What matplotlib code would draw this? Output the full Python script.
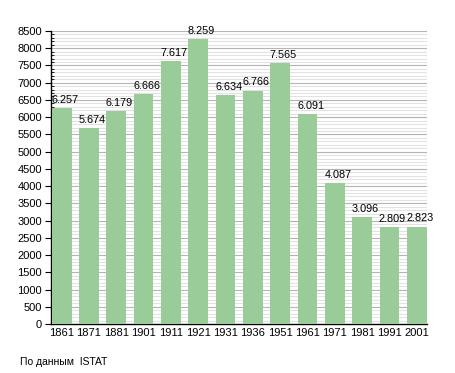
import numpy as np
import matplotlib
matplotlib.use("Agg")
import matplotlib.pyplot as plt
from matplotlib.ticker import MultipleLocator

years = ['1861', '1871', '1881', '1901', '1911', '1921', '1931',
         '1936', '1951', '1961', '1971', '1981', '1991', '2001']
population = [6257, 5674, 6179, 6666, 7617, 8259, 6634,
              6766, 7565, 6091, 4087, 3096, 2809, 2823]
labels = ['6.257', '5.674', '6.179', '6.666', '7.617', '8.259', '6.634',
          '6.766', '7.565', '6.091', '4.087', '3.096', '2.809', '2.823']

plt.rcParams['font.family'] = ['Liberation Sans', 'DejaVu Sans']

fig = plt.figure(figsize=(4.55, 3.73), dpi=100)
ax = fig.add_axes([50.5/455, 49/373, 376/455, 293/373])

w = 0.72
x = np.arange(len(years))
bars = ax.bar(x, population, width=w, color='#99cc99', zorder=3)
# labels sit a little to the right of the bar centres
for b, lab in zip(bars, labels):
    ax.annotate(lab, (b.get_x() + b.get_width()/2, b.get_height()),
                xytext=(2.3, 2.5), textcoords='offset points',
                ha='center', va='bottom', fontsize=7.8, zorder=4)

ax.set_xlim(-w/2 - 0.05, len(years) - 1 + w/2)
ax.set_ylim(0, 8500)
ax.yaxis.set_major_locator(MultipleLocator(500))
ax.yaxis.set_minor_locator(MultipleLocator(100))
ax.grid(axis='y', which='major', color='#b4b4b4', lw=0.8, zorder=1)
ax.grid(axis='y', which='minor', color='#e2e2e2', lw=0.8, zorder=0)
ax.set_xticks(x)
ax.set_xticklabels(years)
ax.tick_params(axis='x', length=0, labelsize=8, pad=3)
ax.tick_params(axis='y', which='major', length=4, direction='out', labelsize=8, pad=2)
ax.tick_params(axis='y', which='minor', length=2, direction='in')
for s in ['top', 'right']:
    ax.spines[s].set_visible(False)
ax.spines['left'].set_linewidth(1)
ax.spines['bottom'].set_linewidth(1)

fig.text(20/455, 1 - 362/373, 'По данным  ISTAT', fontsize=7.5, va='center')

fig.savefig('out.png', dpi=100)
